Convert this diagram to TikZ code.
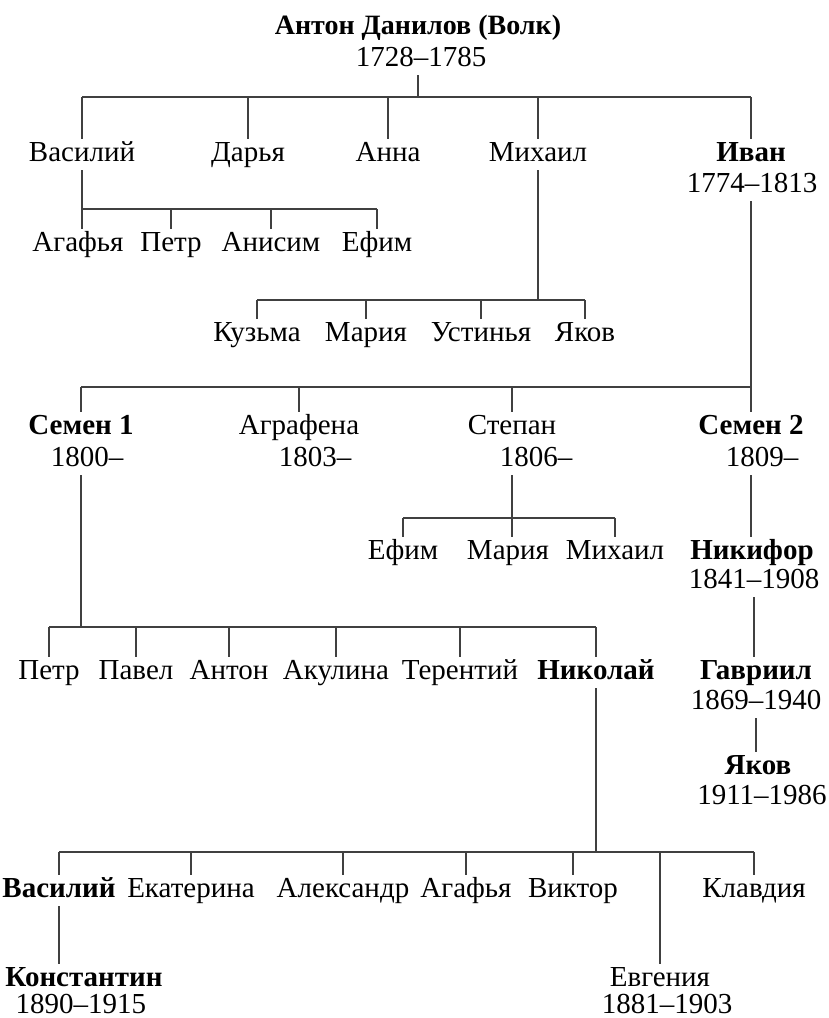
\documentclass[tikz,border=0pt]{standalone}
\usepackage{fontspec}
\setmainfont{Liberation Serif}
\begin{document}
\begin{tikzpicture}[x=1pt,y=-1pt,
  pr/.style={anchor=base, font=\fontsize{29}{32}\selectfont, inner xsep=0pt, inner ysep=3pt, text height=19pt, text depth=6pt},
  pb/.style={pr, font=\fontsize{29}{32}\selectfont\bfseries},
  ptitle/.style={pr, font=\fontsize{28}{32}\selectfont\bfseries},
  plast/.style={pr, inner ysep=0pt, text depth=0pt},
  link/.style={draw=black!75, line width=2.2pt}]
\useasboundingbox (0,0) rectangle (828,1018);
% generation 0
\node[ptitle] (anton) at (418,34) {Антон Данилов (Волк)};
\node[pr] (antonY) at (421,66) {1728–1785};
\coordinate (b1) at (418,97);
% generation 1
\node[pr] (vas1) at (82,161) {Василий};
\node[pr] (darya) at (248,161) {Дарья};
\node[pr] (anna) at (388,161) {Анна};
\node[pr] (mikh1) at (538,161) {Михаил};
\node[pb] (ivan) at (751,161) {Иван};
\node[pr] (ivanY) at (752,192) {1774–1813};
\draw[link] (antonY.south -| b1) -- (b1);
\draw[link] (vas1.north |- b1) -- (ivan.north |- b1);
\foreach \n in {vas1,darya,anna,mikh1,ivan} \draw[link] (\n.north |- b1) -- (\n.north);
% children of Vasily
\node[pr] (agaf1) at (78,251) {Агафья};
\node[pr] (petr1) at (171,251) {Петр};
\node[pr] (anis) at (271,251) {Анисим};
\node[pr] (efim1) at (377,251) {Ефим};
\coordinate (b2) at (82,209);
\draw[link] (vas1.south) -- (vas1.south |- agaf1.north);
\draw[link] (vas1.south |- b2) -- (efim1.north |- b2);
\foreach \n in {petr1,anis,efim1} \draw[link] (\n.north |- b2) -- (\n.north);
% children of Mikhail
\node[pr] (kuzma) at (257,341) {Кузьма};
\node[pr] (maria1) at (366,341) {Мария};
\node[pr] (ustin) at (481,341) {Устинья};
\node[pr] (yakov1) at (585,341) {Яков};
\coordinate (b3) at (538,300);
\draw[link] (mikh1.south) -- (b3);
\draw[link] (kuzma.north |- b3) -- (yakov1.north |- b3);
\foreach \n in {kuzma,maria1,ustin,yakov1} \draw[link] (\n.north |- b3) -- (\n.north);
% children of Ivan
\node[pb] (semen1) at (81,434) {Семен 1};
\node[pr] (semen1Y) at (87,466) {1800–};
\node[pr] (agraf) at (299,434) {Аграфена};
\node[pr] (agrafY) at (315,466) {1803–};
\node[pr] (stepan) at (512,434) {Степан};
\node[pr] (stepanY) at (536,466) {1806–};
\node[pb] (semen2) at (751,434) {Семен 2};
\node[pr] (semen2Y) at (762,466) {1809–};
\coordinate (b4) at (751,387);
\draw[link] (ivanY.south -| semen2) -- (semen2.north);
\draw[link] (semen1.north |- b4) -- (b4);
\foreach \n in {semen1,agraf,stepan} \draw[link] (\n.north |- b4) -- (\n.north);
% children of Stepan
\node[pr] (efim2) at (403,559) {Ефим};
\node[pr] (maria2) at (508,559) {Мария};
\node[pr] (mikh2) at (615,559) {Михаил};
\coordinate (b5) at (512,518);
\draw[link] (stepan |- stepanY.south) -- (stepan |- maria2.north);
\draw[link] (efim2.north |- b5) -- (mikh2.north |- b5);
\foreach \n in {efim2,mikh2} \draw[link] (\n.north |- b5) -- (\n.north);
% line of Semen 2
\node[pb] (nikif) at (752,559) {Никифор};
\node[pr] (nikifY) at (754,588) {1841–1908};
\node[pb] (gavr) at (756,679) {Гавриил};
\node[pr] (gavrY) at (756,709) {1869–1940};
\node[pb] (yakov2) at (758,774) {Яков};
\node[pr] (yakov2Y) at (762,804) {1911–1986};
\draw[link] (semen2 |- semen2Y.south) -- (semen2 |- nikif.north);
\draw[link] (nikifY.south) -- (nikifY.south |- gavr.north);
\draw[link] (gavrY.south) -- (gavrY.south |- yakov2.north);
% children of Semen 1
\node[pr] (petr2) at (49,679) {Петр};
\node[pr] (pavel) at (136,679) {Павел};
\node[pr] (anton2) at (229,679) {Антон};
\node[pr] (akul) at (336,679) {Акулина};
\node[pr] (teren) at (460,679) {Терентий};
\node[pb] (nikol) at (596,679) {Николай};
\coordinate (b6) at (81,627);
\draw[link] (semen1 |- semen1Y.south) -- (b6);
\draw[link] (petr2.north |- b6) -- (nikol.north |- b6);
\foreach \n in {petr2,pavel,anton2,akul,teren,nikol} \draw[link] (\n.north |- b6) -- (\n.north);
% children of Nikolay
\node[pb] (vas2) at (59,897) {Василий};
\node[pr] (ekat) at (191,897) {Екатерина};
\node[pr] (alex) at (343,897) {Александр};
\node[pr] (agaf2) at (466,897) {Агафья};
\node[pr] (vikt) at (573,897) {Виктор};
\node[pr] (klav) at (754,897) {Клавдия};
\node[pr] (evg) at (660,986) {Евгения};
\node[plast] (evgY) at (667,1013) {1881–1903};
\coordinate (b7) at (596,852);
\draw[link] (nikol.south) -- (b7);
\draw[link] (vas2.north |- b7) -- (klav.north |- b7);
\foreach \n in {vas2,ekat,alex,agaf2,vikt,klav,evg} \draw[link] (\n.north |- b7) -- (\n.north);
% son of Vasily
\node[pb] (konst) at (84,986) {Константин};
\node[plast] (konstY) at (81,1013) {1890–1915};
\draw[link] (vas2.south) -- (vas2.south |- konst.north);
\end{tikzpicture}
\end{document}
